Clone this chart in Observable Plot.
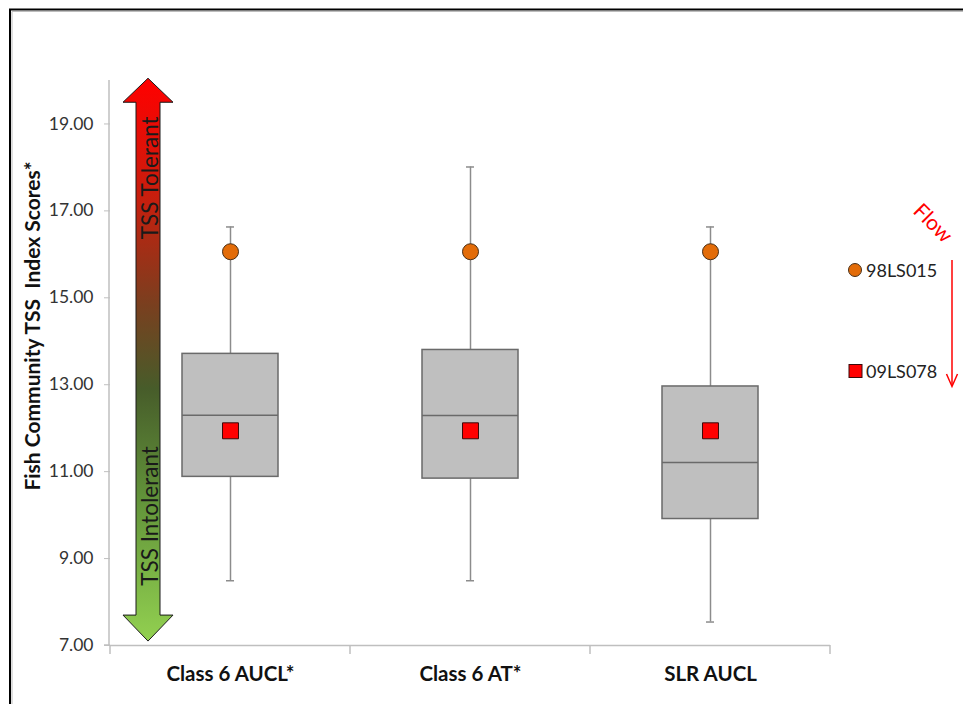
<!DOCTYPE html>
<html>
<head>
<meta charset="utf-8">
<script src="https://cdn.jsdelivr.net/npm/d3@7"></script>
<script src="https://cdn.jsdelivr.net/npm/@observablehq/plot@0.6"></script>
<style>
  html, body { margin: 0; padding: 0; background: #fff; }
  #chart { width: 963px; height: 704px; position: relative; }
  svg { display: block; }
</style>
</head>
<body>
<div id="chart"></div>
<script>
// ---- data ----
const categories = ["Class 6 AUCL*", "Class 6 AT*", "SLR AUCL"];
const whiskerLow = [8.49, 8.49, 7.54];
const q1 = [10.88, 10.84, 9.91];
const median = [12.30, 12.29, 11.21];
const q3 = [13.71, 13.80, 12.96];
const whiskerHigh = [16.63, 18.01, 16.63];
const site98LS015 = [16.06, 16.06, 16.06];
const site09LS078 = [11.94, 11.94, 11.94];
const yTicks = [7, 9, 11, 13, 15, 17, 19];
const legendSites = ["98LS015", "09LS078"];
const yTitle = "Fish Community TSS  Index Scores*";
const arrowLabels = ["TSS Tolerant", "TSS Intolerant"];

const rows = categories.map((cat, i) => ({
  cat, lo: whiskerLow[i], q1: q1[i], med: median[i], q3: q3[i], hi: whiskerHigh[i],
  s1: site98LS015[i], s2: site09LS078[i]
}));

const FONT = "Lato, 'Open Sans', sans-serif";
const whiskerColor = "#8c8c8c";
const boxStroke = "#6a6a6a";

const chart = Plot.plot({
  width: 963,
  height: 704,
  marginLeft: 110,
  marginRight: 133,
  marginTop: 80,
  marginBottom: 59,
  style: { fontFamily: FONT, background: "transparent", overflow: "visible", color: "#333" },
  x: { domain: categories, padding: 0, axis: null },
  y: { domain: [7, 20], axis: null },
  marks: [
    Plot.ruleX(rows, { x: "cat", y1: "q3", y2: "hi", stroke: whiskerColor, strokeWidth: 1.5 }),
    Plot.ruleX(rows, { x: "cat", y1: "lo", y2: "q1", stroke: whiskerColor, strokeWidth: 1.5 }),
    Plot.tickY(rows, { x: "cat", y: "hi", insetLeft: 116, insetRight: 116, stroke: whiskerColor, strokeWidth: 1.5 }),
    Plot.tickY(rows, { x: "cat", y: "lo", insetLeft: 116, insetRight: 116, stroke: whiskerColor, strokeWidth: 1.5 }),
    Plot.barY(rows, { x: "cat", y1: "q1", y2: "q3", insetLeft: 72, insetRight: 72, fill: "#bfbfbf", stroke: boxStroke, strokeWidth: 1.5 }),
    Plot.tickY(rows, { x: "cat", y: "med", insetLeft: 72, insetRight: 72, stroke: boxStroke, strokeWidth: 1.5 }),
    Plot.dot(rows, { x: "cat", y: "s1", r: 8, symbol: "circle", fill: "#e36c09", stroke: "#4a3018", strokeWidth: 1 }),
    Plot.dot(rows, { x: "cat", y: "s2", r: 9, symbol: "square", fill: "#ff0000", stroke: "#3a0a0a", strokeWidth: 1 }),
    Plot.axisY({ ticks: yTicks, tickFormat: d => d.toFixed(2), tickSize: 6, tickPadding: 11, fontSize: 17.5, stroke: "#bfbfbf", fill: "#333", label: null }),
    Plot.axisX({ tickSize: 0, tickPadding: 21, fontSize: 20.5, fontWeight: "bold", fill: "#111", label: null }),
    Plot.ruleY([7], { stroke: "#bfbfbf", strokeWidth: 1.5 })
  ]
});

document.getElementById("chart").appendChild(chart);

// ---- annotations via d3 using the plot's scales ----
const svg = d3.select(chart);
const xs = chart.scale("x");
const ys = chart.scale("y");
const bw = xs.bandwidth;
const y0 = ys.apply(7);
const yTop = ys.apply(20);

const defs = svg.append("defs");
const grad = defs.append("linearGradient")
  .attr("id", "tssGrad").attr("gradientUnits", "userSpaceOnUse")
  .attr("x1", 0).attr("x2", 0).attr("y1", yTop).attr("y2", ys.apply(7.1));
[["0%", "#ff0000"], ["22%", "#c4200e"], ["40%", "#7a3f1f"], ["55%", "#475c2a"], ["75%", "#62943a"], ["100%", "#92d050"]]
  .forEach(([o, c]) => grad.append("stop").attr("offset", o).attr("stop-color", c));

// frame border
svg.append("path").attr("d", "M10,704V9.5H963").attr("fill", "none").attr("stroke", "#000").attr("stroke-width", 2);
svg.append("path").attr("d", "M12,704V11.5H963").attr("fill", "none").attr("stroke", "#bdbdbd").attr("stroke-width", 1);

// y axis line
const xAxisLeft = xs.apply(categories[0]);
svg.append("line").attr("x1", xAxisLeft - 1).attr("x2", xAxisLeft - 1).attr("y1", yTop).attr("y2", y0)
  .attr("stroke", "#bfbfbf").attr("stroke-width", 1.5);
svg.append("line").attr("x1", xAxisLeft - 6).attr("x2", xAxisLeft).attr("y1", y0).attr("y2", y0)
  .attr("stroke", "#bfbfbf").attr("stroke-width", 1.5);

// x boundary ticks
const bounds = categories.map(c => xs.apply(c)).concat([xs.apply(categories[categories.length - 1]) + bw]);
svg.append("g").selectAll("line").data(bounds).join("line")
  .attr("x1", d => d).attr("x2", d => d).attr("y1", y0).attr("y2", y0 + 9)
  .attr("stroke", "#bfbfbf").attr("stroke-width", 1.5);

// y title
svg.append("text")
  .attr("transform", `translate(31,326) rotate(-90)`)
  .attr("text-anchor", "middle").attr("dominant-baseline", "central")
  .attr("font-family", FONT).attr("font-size", 21).attr("font-weight", "bold").attr("fill", "#111")
  .text(yTitle);

// double-headed gradient arrow
const cx = 148, sh = 12, hh = 25;
const tip1 = ys.apply(20.04), base1 = tip1 + 24;
const tip2 = ys.apply(7.09), base2 = tip2 - 26;
svg.append("path")
  .attr("d", `M${cx},${tip1}L${cx + hh},${base1}L${cx + sh},${base1}L${cx + sh},${base2}L${cx + hh},${base2}L${cx},${tip2}L${cx - hh},${base2}L${cx - sh},${base2}L${cx - sh},${base1}L${cx - hh},${base1}Z`)
  .attr("fill", "url(#tssGrad)").attr("stroke", "#1a1a1a").attr("stroke-width", 1);
svg.append("text")
  .attr("transform", `translate(${cx + 1},${ys.apply(17.75)}) rotate(-90)`)
  .attr("text-anchor", "middle").attr("dominant-baseline", "central")
  .attr("font-family", FONT).attr("font-size", 22.5).attr("fill", "#1a1a1a")
  .text(arrowLabels[0]);
svg.append("text")
  .attr("transform", `translate(${cx + 1},${ys.apply(9.97)}) rotate(-90)`)
  .attr("text-anchor", "middle").attr("dominant-baseline", "central")
  .attr("font-family", FONT).attr("font-size", 22.5).attr("fill", "#1a1a1a")
  .text(arrowLabels[1]);

// legend
const lg = svg.append("g").attr("font-family", FONT).attr("font-size", 18).attr("fill", "#222").attr("text-anchor", "start");
lg.append("circle").attr("cx", 855).attr("cy", 270).attr("r", 6.5).attr("fill", "#e36c09").attr("stroke", "#4a3018").attr("stroke-width", 1);
lg.append("text").attr("x", 866).attr("y", 270).attr("dominant-baseline", "central").text(legendSites[0]);
lg.append("rect").attr("x", 849).attr("y", 364.5).attr("width", 13).attr("height", 13).attr("fill", "#ff0000").attr("stroke", "#3a0a0a").attr("stroke-width", 1);
lg.append("text").attr("x", 866).attr("y", 371).attr("dominant-baseline", "central").text(legendSites[1]);

// flow annotation
svg.append("text")
  .attr("transform", "translate(934,222) rotate(45)")
  .attr("text-anchor", "middle").attr("dominant-baseline", "central")
  .attr("font-family", FONT).attr("font-size", 21).attr("fill", "#ff0000")
  .text("Flow");
svg.append("line").attr("x1", 952).attr("x2", 952).attr("y1", 260).attr("y2", 386)
  .attr("stroke", "#ff0000").attr("stroke-width", 1.5);
svg.append("path").attr("d", "M946.5,374L952,386.5L957.5,374").attr("fill", "none")
  .attr("stroke", "#ff0000").attr("stroke-width", 1.5);
</script>
</body>
</html>
